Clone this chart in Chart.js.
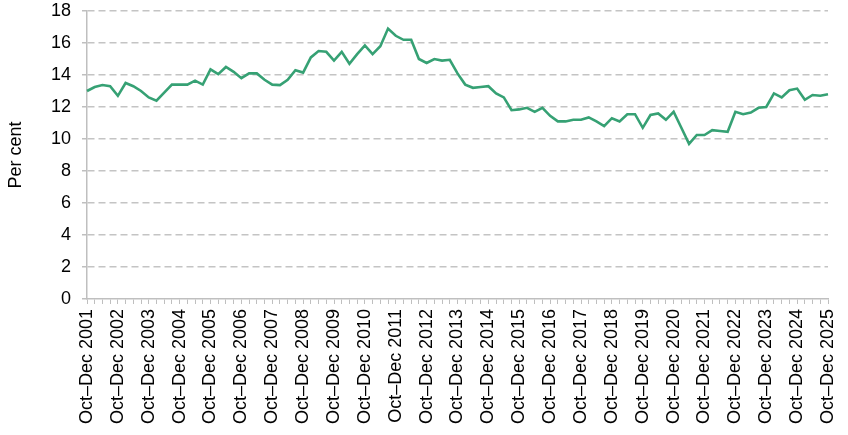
<!DOCTYPE html>
<html>
<head>
<meta charset="utf-8">
<script src="https://cdn.jsdelivr.net/npm/chart.js@4/dist/chart.umd.min.js"></script>
<style>
html,body{margin:0;padding:0;background:#fff;}
#wrap{width:848px;height:435px;position:relative;}
</style>
</head>
<body>
<div id="wrap"><canvas id="c" width="848" height="435"></canvas></div>
<script>
// Quarterly categories: Oct–Dec 2001 ... Oct–Dec 2025
const quarterNames = ["Jan–Mar", "Apr–Jun", "Jul–Sep", "Oct–Dec"];
const firstYear = 2001;
const lastYear = 2025;
const categories = [];
categories.push("Oct–Dec " + firstYear);
for (let y = firstYear + 1; y <= lastYear; y++) {
  for (const q of quarterNames) categories.push(q + " " + y);
}

// Per cent values
const values = [
  13.0, 13.25, 13.37, 13.3, 12.7, 13.5, 13.3, 13.0, 12.6, 12.4,
  12.9, 13.4, 13.4, 13.4, 13.65, 13.4, 14.35, 14.05, 14.5, 14.2,
  13.8, 14.1, 14.1, 13.7, 13.4, 13.37, 13.7, 14.3, 14.15, 15.1,
  15.5, 15.45, 14.9, 15.45, 14.7, 15.3, 15.85, 15.3, 15.8, 16.9,
  16.45, 16.2, 16.2, 15.0, 14.75, 15.0, 14.9, 14.95, 14.1, 13.4,
  13.2, 13.25, 13.3, 12.85, 12.6, 11.8, 11.85, 11.95, 11.7, 11.95,
  11.45, 11.1, 11.1, 11.2, 11.2, 11.35, 11.1, 10.8, 11.3, 11.1,
  11.55, 11.55, 10.7, 11.5, 11.6, 11.2, 11.7, 10.7, 9.7, 10.25,
  10.25, 10.55, 10.5, 10.45, 11.7, 11.55, 11.65, 11.95, 12.0, 12.85,
  12.6, 13.05, 13.15, 12.45, 12.75, 12.7, 12.8
];

const yTicks = [0, 2, 4, 6, 8, 10, 12, 14, 16, 18];
const yTitle = "Per cent";
const labelEvery = 4;

const gridColor = '#c4c4c4';
const axisColor = '#bfbfbf';
const lineColor = '#36a174';
const fontFamily = '"Liberation Sans", Arial, sans-serif';

new Chart(document.getElementById('c'), {
  type: 'line',
  data: {
    labels: categories,
    datasets: [{
      data: values,
      borderColor: lineColor,
      borderWidth: 2.6,
      pointRadius: 0,
      tension: 0,
      fill: false
    }]
  },
  options: {
    responsive: false,
    animation: false,
    devicePixelRatio: 1,
    layout: { padding: { top: 11, right: 20, left: 0, bottom: 0 } },
    plugins: { legend: { display: false }, tooltip: { enabled: false } },
    scales: {
      x: {
        type: 'category',
        offset: false,
        grid: {
          display: true,
          drawOnChartArea: false,
          drawTicks: true,
          tickLength: 5,
          tickColor: axisColor,
          color: axisColor
        },
        border: { display: true, color: axisColor, width: 1.5 },
        ticks: {
          autoSkip: false,
          maxRotation: 90,
          minRotation: 90,
          padding: 5,
          color: '#000',
          font: { family: fontFamily, size: 18 },
          callback: function(val, idx) {
            return idx % labelEvery === 0 ? categories[idx] : '';
          }
        },
        afterFit: function(scale) {
          scale.height = 136;
          scale.paddingLeft = 0;
          scale.paddingRight = 0;
        }
      },
      y: {
        min: 0,
        max: 18,
        afterBuildTicks: function(scale) { scale.ticks = yTicks.map(v => ({ value: v })); },
        grid: {
          color: ctx => (ctx.tick && ctx.tick.value === 0) ? 'rgba(0,0,0,0)' : gridColor,
          lineWidth: 1.5,
          tickLength: 5,
          tickColor: axisColor,
          tickBorderDash: [],
          drawTicks: true
        },
        border: { display: true, color: axisColor, width: 1.5, dash: [7, 4] },
        ticks: {
          padding: 11,
          color: '#000',
          font: { family: fontFamily, size: 18 }
        },
        title: {
          display: true,
          text: yTitle,
          color: '#000',
          font: { family: fontFamily, size: 18 },
          padding: { top: 5, bottom: 4 }
        },
        afterFit: function(scale) {
          scale.width = 87;
          scale.paddingTop = 0;
          scale.paddingBottom = 0;
        }
      }
    }
  }
});
</script>
</body>
</html>
